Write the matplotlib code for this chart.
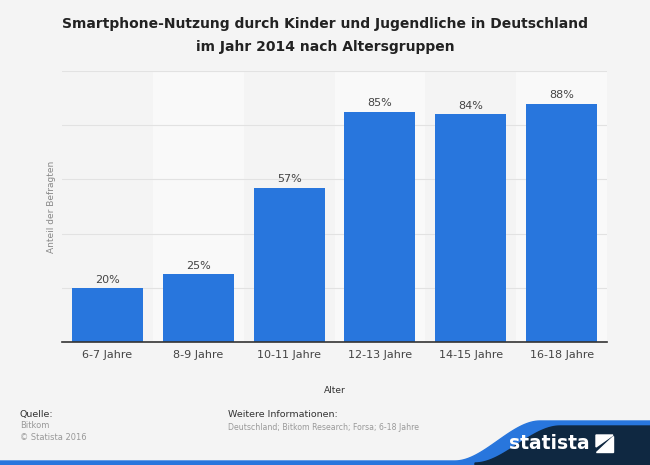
import matplotlib.pyplot as plt
import numpy as np
from matplotlib.patches import Polygon

# Data
categories = ['6-7 Jahre', '8-9 Jahre', '10-11 Jahre', '12-13 Jahre', '14-15 Jahre', '16-18 Jahre']
values = [20, 25, 57, 85, 84, 88]

bg = '#f4f4f4'
bar_color = '#2876dd'

fig = plt.figure(figsize=(6.5, 4.65), dpi=100)
fig.patch.set_facecolor(bg)

ax = fig.add_axes([62 / 650, 1 - 342 / 465, 545 / 650, 271 / 465])
ax.set_facecolor(bg)

x = np.arange(len(categories))
# lighter background stripes behind every second column
for i in x:
    if i % 2 == 1:
        ax.axvspan(i - 0.5, i + 0.5, color='#f9f9f9', zorder=0, lw=0)

ax.bar(x, values, width=0.78, color=bar_color, zorder=3)
for xi, v in zip(x, values):
    ax.text(xi, v + 1.2, f'{v}%', ha='center', va='bottom', fontsize=8, color='#444444', zorder=4)

ax.set_xlim(-0.5, len(categories) - 0.5)
ax.set_ylim(0, 100)
ax.set_yticks(np.arange(0, 101, 20))
ax.yaxis.grid(True, color='#e2e2e2', lw=0.8, zorder=1)
ax.set_yticklabels([])
ax.tick_params(axis='y', length=0)
ax.set_xticks(x)
ax.set_xticklabels(categories, fontsize=8, color='#444444')
ax.tick_params(axis='x', length=0, pad=6)
for s in ['top', 'right', 'left']:
    ax.spines[s].set_visible(False)
ax.spines['bottom'].set_color('#333333')
ax.spines['bottom'].set_linewidth(1.2)
ax.spines['bottom'].set_zorder(5)
ax.set_ylabel('Anteil der Befragten', fontsize=6.5, color='#888888', labelpad=1)

fig.text(325 / 650, 1 - 17 / 465, 'Smartphone-Nutzung durch Kinder und Jugendliche in Deutschland\nim Jahr 2014 nach Altersgruppen',
         ha='center', va='top', fontsize=10, fontweight='bold', color='#222222', linespacing=1.8)

fig.text(335 / 650, 1 - 390 / 465, 'Alter', ha='center', va='center', fontsize=6.5, color='#333333')

fig.text(20 / 650, 1 - 414 / 465, 'Quelle:', ha='left', va='center', fontsize=6.8, color='#333333')
fig.text(20 / 650, 1 - 425 / 465, 'Bitkom', ha='left', va='center', fontsize=6, color='#999999')
fig.text(20 / 650, 1 - 437 / 465, '\u00a9 Statista 2016', ha='left', va='center', fontsize=6, color='#999999')
fig.text(228 / 650, 1 - 414 / 465, 'Weitere Informationen:', ha='left', va='center', fontsize=6.8, color='#333333')
fig.text(228 / 650, 1 - 427 / 465, 'Deutschland; Bitkom Research; Forsa; 6-18 Jahre', ha='left', va='center',
         fontsize=5.6, color='#999999')

# statista logo area
t = np.linspace(0, 1, 40)
cx = 455 + 85 * t
cy = 465 - (4 + 40 * (3 * t ** 2 - 2 * t ** 3))
curve = list(zip(cx / 650, 1 - cy / 465))
blue_pts = [(0, 0), (0, 1 - 461 / 465)] + curve + [(1, 1 - 421 / 465), (1, 0)]
fig.patches.append(Polygon(blue_pts, closed=True, transform=fig.transFigure, color=bar_color, zorder=1))
cx2 = 475 + 85 * t
cy2 = 465 - (2 + 37 * (3 * t ** 2 - 2 * t ** 3))
navy_pts = [(px / 650, 1 - py / 465) for px, py in zip(cx2, cy2)] + \
           [(1, 1 - 426 / 465), (1, 0), (475 / 650, 0)]
fig.patches.append(Polygon(navy_pts, closed=True, transform=fig.transFigure, color='#0f2841', zorder=2))
fig.text(590 / 650, 1 - 443 / 465, 'statista', ha='right', va='center', fontsize=13.5, fontweight='bold',
         color='white', zorder=3)
icon = [(596 / 650, 1 - 452 / 465), (613 / 650, 1 - 452 / 465), (613 / 650, 1 - 436 / 465)]
fig.patches.append(Polygon(icon, closed=True, transform=fig.transFigure, color='white', zorder=3))
icon2 = [(596 / 650, 1 - 435 / 465), (613 / 650, 1 - 435 / 465), (596 / 650, 1 - 447 / 465)]
fig.patches.append(Polygon(icon2, closed=True, transform=fig.transFigure, color='white', zorder=3))

fig.savefig('out.png', dpi=100, facecolor=fig.get_facecolor())
